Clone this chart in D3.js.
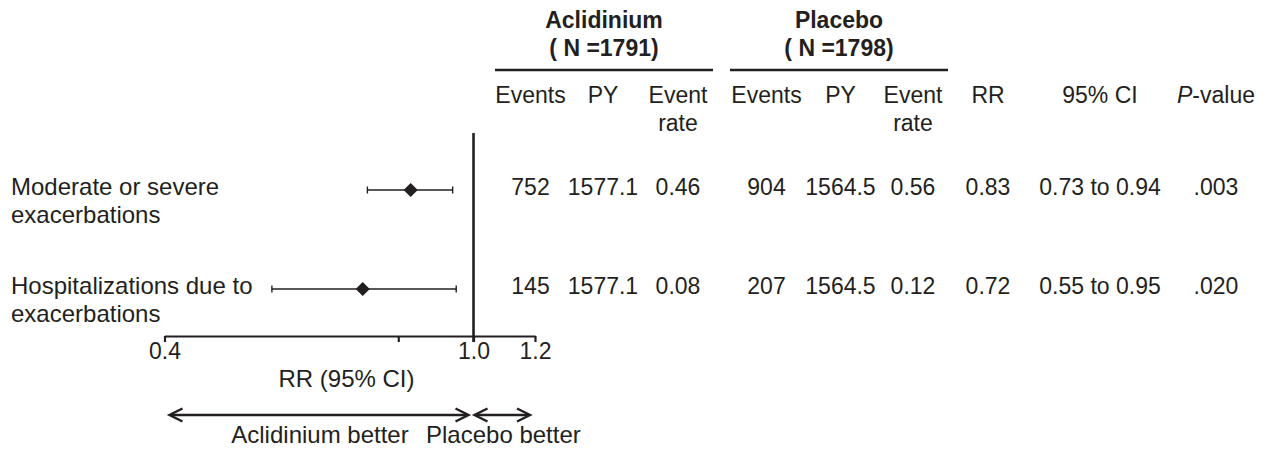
<!DOCTYPE html>
<html>
<head>
<meta charset="utf-8">
<script src="https://cdn.jsdelivr.net/npm/d3@7"></script>
<style>
  html, body { margin: 0; padding: 0; background: #fff; }
  svg { display: block; }
  text { font-family: "Liberation Sans", Arial, Helvetica, sans-serif; fill: #231f20; }
</style>
</head>
<body>
<svg id="chart" width="1270" height="451"></svg>
<script>
// ---- data ----
const categories = [["Moderate or severe", "exacerbations"], ["Hospitalizations due to", "exacerbations"]];
const aclEvents = ["752", "145"];
const aclPY = ["1577.1", "1577.1"];
const aclRate = ["0.46", "0.08"];
const plaEvents = ["904", "207"];
const plaPY = ["1564.5", "1564.5"];
const plaRate = ["0.56", "0.12"];
const rr = [0.83, 0.72];
const ciLow = [0.73, 0.55];
const ciHigh = [0.94, 0.95];
const pValues = [".003", ".020"];
const groupTitles = [["Aclidinium", "( N =1791)"], ["Placebo", "( N =1798)"]];
const colHeaders = [["Events"], ["PY"], ["Event", "rate"], ["Events"], ["PY"], ["Event", "rate"], ["RR"], ["95% CI"], ["P-value"]];
const tickValues = [0.4, 0.8, 1.0, 1.2];
const tickLabels = ["0.4", "", "1.0", "1.2"];
const axisTitle = "RR (95% CI)";
const favourLabels = ["Aclidinium better", "Placebo better"];

// ---- layout ----
const ink = "#231f20";
const fs = 23;
const fsL = 24;
const svg = d3.select("#chart");

const x = d3.scaleLog().domain([0.4, 1.2]).range([164.5, 535]);
const y = d3.scalePoint().domain(d3.range(categories.length)).range([190, 289]);
const colX = [530.5, 603, 678, 766.5, 840.5, 913, 988, 1100, 1216];

// group titles and rules
const groupSpan = [[495, 713], [730, 948]];
groupTitles.forEach((g, i) => {
  const cx = (groupSpan[i][0] + groupSpan[i][1]) / 2;
  svg.append("text").attr("x", cx).attr("y", 28).attr("text-anchor", "middle")
    .attr("font-size", fs).attr("font-weight", "bold").text(g[0]);
  svg.append("text").attr("x", cx).attr("y", 56).attr("text-anchor", "middle")
    .attr("font-size", fs).attr("font-weight", "bold").text(g[1]);
  svg.append("line").attr("x1", groupSpan[i][0]).attr("x2", groupSpan[i][1])
    .attr("y1", 70).attr("y2", 70).attr("stroke", ink).attr("stroke-width", 2.5);
});

// column headers
colHeaders.forEach((h, i) => {
  h.forEach((line, j) => {
    const t = svg.append("text").attr("x", colX[i]).attr("y", 103 + j * 28)
      .attr("text-anchor", "middle").attr("font-size", fs);
    if (line === "P-value") {
      t.append("tspan").attr("font-style", "italic").text("P");
      t.append("tspan").text("-value");
    } else {
      t.text(line);
    }
  });
});

// row labels
categories.forEach((c, i) => {
  c.forEach((line, j) => {
    svg.append("text").attr("x", 11).attr("y", y(i) + 5 + j * 28)
      .attr("font-size", fsL).text(line);
  });
});

// table values
const columns = [aclEvents, aclPY, aclRate, plaEvents, plaPY, plaRate,
  rr.map(v => v.toFixed(2)),
  ciLow.map((v, i) => v.toFixed(2) + " to " + ciHigh[i].toFixed(2)),
  pValues];
columns.forEach((col, ci) => {
  col.forEach((v, ri) => {
    svg.append("text").attr("x", colX[ci]).attr("y", y(ri) + 5)
      .attr("text-anchor", "middle").attr("font-size", fs).text(v);
  });
});

// reference line at 1.0
svg.append("line").attr("x1", x(1)).attr("x2", x(1)).attr("y1", 133).attr("y2", 342)
  .attr("stroke", ink).attr("stroke-width", 2.6);

// CI lines
const rows = svg.append("g");
rr.forEach((v, i) => {
  const g = rows.append("g");
  g.append("line").attr("x1", x(ciLow[i])).attr("x2", x(ciHigh[i]))
    .attr("y1", y(i)).attr("y2", y(i)).attr("stroke", ink).attr("stroke-width", 1.4);
  [ciLow[i], ciHigh[i]].forEach(e => {
    g.append("line").attr("x1", x(e)).attr("x2", x(e))
      .attr("y1", y(i) - 3.5).attr("y2", y(i) + 3.5).attr("stroke", ink).attr("stroke-width", 1.4);
  });
  g.append("path")
    .attr("d", d3.symbol().type(d3.symbolSquare).size(100)())
    .attr("transform", `translate(${x(v)},${y(i)}) rotate(45)`)
    .attr("fill", ink);
});

// axis
const axis = d3.axisBottom(x).tickValues(tickValues)
  .tickFormat((d, i) => tickLabels[i]).tickSize(6).tickSizeOuter(0).tickPadding(3);
const ag = svg.append("g").attr("transform", "translate(0,336)").call(axis);
ag.select(".domain").attr("stroke", ink).attr("stroke-width", 2.2);
ag.selectAll(".tick line").attr("stroke", ink).attr("stroke-width", 2.2);
ag.selectAll(".tick text").attr("font-size", fs).attr("font-family", null)
  .attr("fill", ink).attr("dy", null).attr("y", 23);

svg.append("text").attr("x", 346.5).attr("y", 387).attr("text-anchor", "middle")
  .attr("font-size", fsL).text(axisTitle);

// favour arrows
function dblArrow(x1, x2, yy) {
  const L = 13, W = 6.5;
  svg.append("line").attr("x1", x1 + 1).attr("x2", x2 - 1).attr("y1", yy).attr("y2", yy)
    .attr("stroke", ink).attr("stroke-width", 2.4);
  svg.append("path").attr("d", `M${x1 + L},${yy - W}L${x1},${yy}L${x1 + L},${yy + W}`)
    .attr("fill", "none").attr("stroke", ink).attr("stroke-width", 2.4);
  svg.append("path").attr("d", `M${x2 - L},${yy - W}L${x2},${yy}L${x2 - L},${yy + W}`)
    .attr("fill", "none").attr("stroke", ink).attr("stroke-width", 2.4);
}
dblArrow(x(0.4) + 5, x(1) - 5, 415);
dblArrow(x(1) + 1, x(1.2) - 5, 415);

svg.append("text").attr("x", 320).attr("y", 443).attr("text-anchor", "middle")
  .attr("font-size", fsL).text(favourLabels[0]);
svg.append("text").attr("x", 426).attr("y", 443).attr("text-anchor", "start")
  .attr("font-size", fsL).text(favourLabels[1]);
</script>
</body>
</html>
